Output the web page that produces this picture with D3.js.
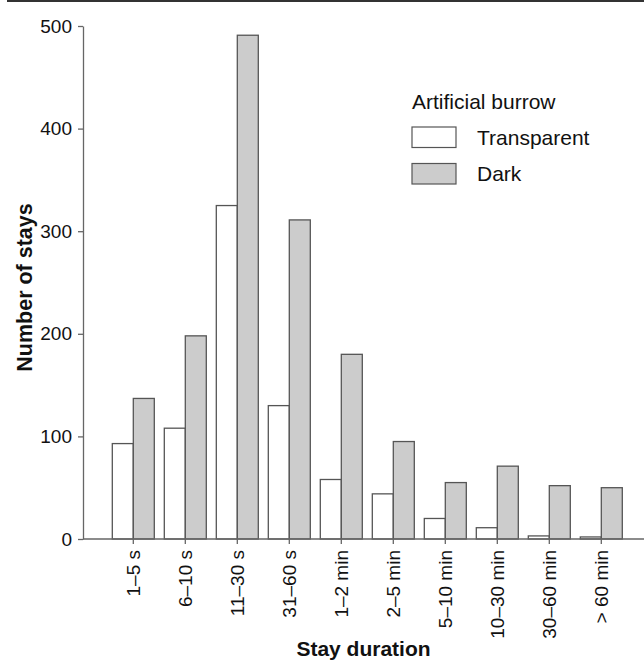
<!DOCTYPE html>
<html>
<head>
<meta charset="utf-8">
<script src="https://cdn.jsdelivr.net/npm/d3@7"></script>
<style>
  body { margin: 0; background: #fff; }
  svg { display: block; font-family: "Liberation Sans", Arial, sans-serif; }
</style>
</head>
<body>
<div id="chart"></div>
<script>
// data
const durations = ['1–5 s', '6–10 s', '11–30 s', '31–60 s', '1–2 min', '2–5 min', '5–10 min', '10–30 min', '30–60 min', '> 60 min'];
const transparent = [93, 108, 325, 130, 58, 44, 20, 11, 3, 2];
const dark = [137, 198, 491, 311, 180, 95, 55, 71, 52, 50];
const seriesNames = ['Transparent', 'Dark'];
const yTicks = [0, 100, 200, 300, 400, 500];

const W = 644, H = 662;
const axisX = 83, y0 = 539, yTop = 26;
const barStroke = '#555', darkFill = '#cccccc';

const svg = d3.select('#chart').append('svg')
    .attr('width', W).attr('height', H);

// thin rule across the top
svg.append('rect')
    .attr('x', 7).attr('y', 0).attr('width', W - 7).attr('height', 2)
    .attr('fill', '#333');

const x = d3.scaleBand()
    .domain(durations)
    .range([axisX + 24.3, axisX + 24.3 + 520])
    .paddingInner(10 / 52)
    .paddingOuter(5 / 52);

const sub = d3.scaleBand()
    .domain(seriesNames)
    .range([0, x.bandwidth()]);

const y = d3.scaleLinear().domain([0, 500]).range([y0, yTop]);

const rows = durations.map((d, i) => ({ cat: d, vals: [transparent[i], dark[i]] }));

// bars
const groups = svg.append('g').selectAll('g')
    .data(rows)
    .join('g')
    .attr('transform', d => `translate(${x(d.cat)},0)`);

groups.selectAll('rect')
    .data(d => d.vals.map((v, j) => ({ key: seriesNames[j], v })))
    .join('rect')
    .attr('x', d => sub(d.key))
    .attr('y', d => y(d.v))
    .attr('width', sub.bandwidth())
    .attr('height', d => y0 - y(d.v))
    .attr('fill', d => d.key === 'Dark' ? darkFill : '#fff')
    .attr('stroke', barStroke)
    .attr('stroke-width', 1.3);

// y axis
const yAxis = svg.append('g')
    .attr('transform', `translate(${axisX},0)`)
    .call(d3.axisLeft(y).tickValues(yTicks).tickSize(5).tickSizeOuter(0).tickPadding(6));
yAxis.select('.domain').attr('stroke', '#666').attr('stroke-width', 1.3);
yAxis.selectAll('.tick line').attr('stroke', '#666').attr('stroke-width', 1.3);
yAxis.selectAll('.tick text')
    .attr('font-size', '19px').attr('font-family', '"Liberation Sans", Arial, sans-serif')
    .attr('fill', '#111');

// x axis
svg.append('line')
    .attr('x1', axisX).attr('x2', W).attr('y1', y0).attr('y2', y0)
    .attr('stroke', '#666').attr('stroke-width', 1.3);

const xAxis = svg.append('g')
    .attr('transform', `translate(0,${y0})`)
    .call(d3.axisBottom(x).tickSize(5).tickSizeOuter(0));
xAxis.select('.domain').remove();
xAxis.selectAll('.tick line').attr('stroke', '#666').attr('stroke-width', 1.3);
xAxis.selectAll('.tick text')
    .attr('font-size', '19px').attr('font-family', '"Liberation Sans", Arial, sans-serif')
    .attr('fill', '#111')
    .attr('transform', 'rotate(-90)')
    .attr('text-anchor', 'end')
    .attr('dy', '0.35em')
    .attr('x', -11)
    .attr('y', 0);

// axis titles
svg.append('text')
    .attr('x', (axisX + W) / 2).attr('y', 656)
    .attr('text-anchor', 'middle')
    .attr('font-size', '21px').attr('font-weight', 'bold')
    .attr('fill', '#111')
    .text('Stay duration');

svg.append('text')
    .attr('transform', 'translate(32,287.5) rotate(-90)')
    .attr('text-anchor', 'middle')
    .attr('font-size', '21.5px').attr('font-weight', 'bold')
    .attr('fill', '#111')
    .text('Number of stays');

// legend
const legend = svg.append('g').attr('transform', 'translate(412,0)');
legend.append('text')
    .attr('x', 0).attr('y', 109)
    .attr('font-size', '21px').attr('fill', '#111')
    .text('Artificial burrow');

legend.selectAll('g.item')
    .data(seriesNames)
    .join('g')
    .attr('class', 'item')
    .attr('transform', (d, i) => `translate(0,${127 + i * 36.5})`)
    .each(function (d) {
        const g = d3.select(this);
        g.append('rect')
            .attr('width', 44).attr('height', 20.5)
            .attr('fill', d === 'Dark' ? darkFill : '#fff')
            .attr('stroke', barStroke).attr('stroke-width', 1.2);
        g.append('text')
            .attr('x', 65).attr('y', 17.5)
            .attr('font-size', '21px').attr('fill', '#111')
            .text(d);
    });
</script>
</body>
</html>
